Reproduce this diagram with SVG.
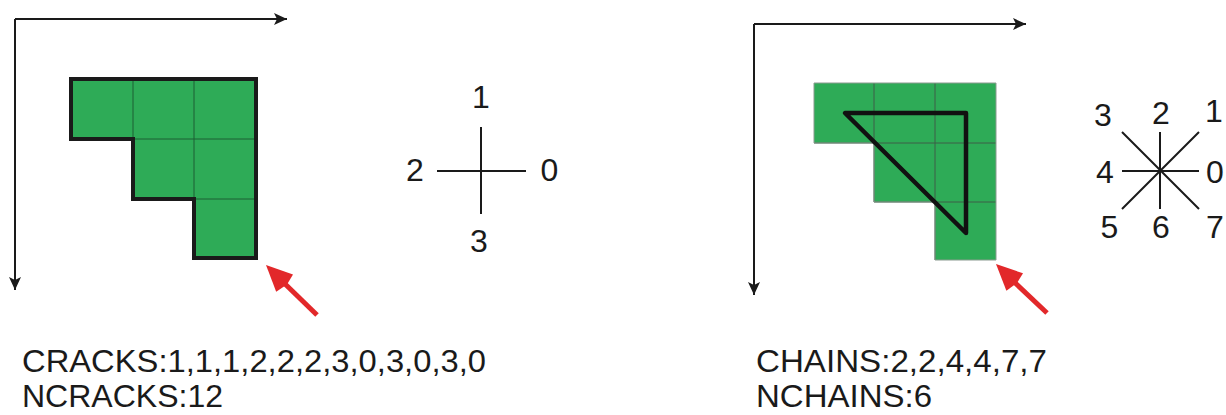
<svg xmlns="http://www.w3.org/2000/svg" width="1226" height="415" viewBox="0 0 1226 415">
  <style>
    .axis { stroke: #1a1a1a; stroke-width: 2; fill: none; }
    .cell { fill: #2eab57; }
    .grid { stroke: #1d5e34; stroke-width: 1; fill: none; }
    .grid2 { stroke: #3d5f48; stroke-width: 1; fill: none; }
    .edge { stroke: #8a9a8f; stroke-width: 1; fill: none; }
    .outline { stroke: #1a1a1a; stroke-width: 4; fill: none; stroke-linejoin: miter; }
    .chain { stroke: #111; stroke-width: 4.5; fill: none; stroke-linejoin: round; }
    .dir { stroke: #1a1a1a; stroke-width: 2; fill: none; }
    .lbl { font-family: "Liberation Sans", Arial, sans-serif; font-size: 32px; fill: #1a1a1a; text-anchor: middle; }
    .code { font-family: "Liberation Sans", Arial, sans-serif; font-size: 30.5px; fill: #1a1a1a; }
    .red { fill: #e2282a; }
    .redshaft { stroke: #e2282a; stroke-width: 5; }
  </style>
  <defs>
    <marker id="axhead" markerUnits="userSpaceOnUse" markerWidth="14" markerHeight="13" refX="13" refY="6" orient="auto">
      <path d="M0,0 L13,6 L0,12 L3,6 z" fill="#1a1a1a"/>
    </marker>
  </defs>

  <!-- left: crack code panel -->
  <g id="left-axes">
    <path class="axis" d="M15,19 H287" marker-end="url(#axhead)"/>
    <path class="axis" d="M15,19 V290" marker-end="url(#axhead)"/>
  </g>
  <g id="left-region">
    <path class="cell" d="M71,79 H256 V258 H194 V199 H133 V139 H71 Z"/>
    <path class="grid" d="M133,79 V139 M194,79 V199 M133,139 H256 M194,199 H256"/>
    <path class="outline" d="M71,79 H256 V258 H194 V199 H133 V139 H71 Z"/>
  </g>
  <g id="left-pointer">
    <line class="redshaft" x1="317" y1="315" x2="282" y2="281"/>
    <polygon class="red" points="266,265 293,274.6 287,284.5 276.2,291.8"/>
  </g>
  <g id="crack-directions">
    <path class="dir" d="M481,127 V214 M437,171 H526"/>
    <text class="lbl" x="481" y="108">1</text>
    <text class="lbl" x="415" y="181">2</text>
    <text class="lbl" x="549.5" y="181">0</text>
    <text class="lbl" x="479" y="252">3</text>
  </g>
  <g id="crack-code">
    <text class="code" x="22" y="372" textLength="464" lengthAdjust="spacingAndGlyphs">CRACKS:1,1,1,2,2,2,3,0,3,0,3,0</text>
    <text class="code" x="22" y="407" textLength="201" lengthAdjust="spacingAndGlyphs">NCRACKS:12</text>
  </g>

  <!-- right: chain code panel -->
  <g id="right-axes">
    <path class="axis" d="M754,24 H1026" marker-end="url(#axhead)"/>
    <path class="axis" d="M754,24 V295" marker-end="url(#axhead)"/>
  </g>
  <g id="right-region">
    <path class="cell" d="M814,83 H996 V260 H935 V202 H874 V143 H814 Z"/>
    <path class="grid2" d="M874,83 V202 M935,83 V260 M814,143 H996 M874,202 H996"/>
    <path class="edge" d="M814,83 H996 V260 H935 V202 H874 V143 H814 Z"/>
    <path class="chain" d="M845,113 H966 V233 Z"/>
  </g>
  <g id="right-pointer">
    <line class="redshaft" x1="1047" y1="313" x2="1012" y2="280"/>
    <polygon class="red" points="996,264 1023,273.3 1017,283 1006.4,290.7"/>
  </g>
  <g id="chain-directions">
    <path class="dir" d="M1122,171 H1199 M1160,132 V209 M1122,132 L1199,209 M1199,132 L1122,209"/>
    <text class="lbl" x="1103" y="126">3</text>
    <text class="lbl" x="1161" y="124">2</text>
    <text class="lbl" x="1214" y="122">1</text>
    <text class="lbl" x="1105" y="183">4</text>
    <text class="lbl" x="1215" y="183">0</text>
    <text class="lbl" x="1109.5" y="238">5</text>
    <text class="lbl" x="1161" y="238">6</text>
    <text class="lbl" x="1215" y="238">7</text>
  </g>
  <g id="chain-code">
    <text class="code" x="756" y="372" textLength="291" lengthAdjust="spacingAndGlyphs">CHAINS:2,2,4,4,7,7</text>
    <text class="code" x="756" y="407" textLength="176" lengthAdjust="spacingAndGlyphs">NCHAINS:6</text>
  </g>
</svg>
